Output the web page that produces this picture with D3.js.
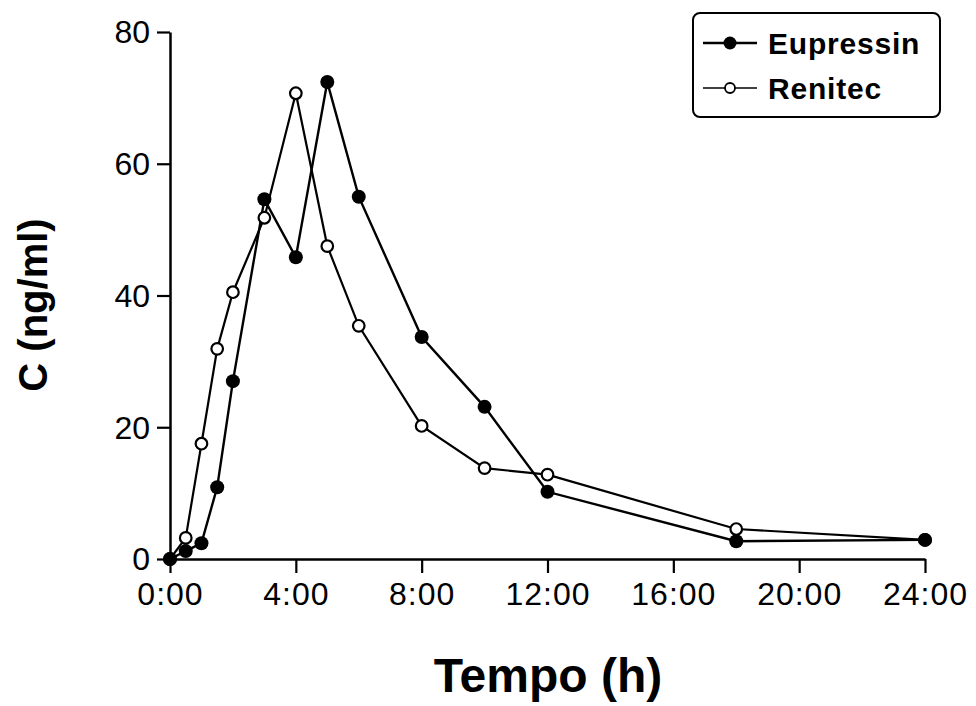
<!DOCTYPE html>
<html>
<head>
<meta charset="utf-8">
<script src="https://cdn.jsdelivr.net/npm/d3@7"></script>
<style>
  body { margin: 0; background: #fff; }
  svg { display: block; font-family: "Liberation Sans", Arial, sans-serif; }
</style>
</head>
<body>
<div id="chart"></div>
<script>
// sampling times (h)
var hours = [0, 0.5, 1, 1.5, 2, 3, 4, 5, 6, 8, 10, 12, 18, 24];
var eupressin = [0, 1.2, 2.4, 10.9, 27.0, 54.6, 45.8, 72.4, 55.0, 33.7, 23.1, 10.2, 2.7, 2.9];
var renitec = [0, 3.2, 17.5, 31.9, 40.5, 51.8, 70.7, 47.5, 35.4, 20.2, 13.8, 12.8, 4.55, 2.9];
var xTicks = [0, 4, 8, 12, 16, 20, 24];
var yTicks = [0, 20, 40, 60, 80];
var seriesNames = ["Eupressin", "Renitec"];

var width = 976, height = 706;
var svg = d3.select("#chart").append("svg")
  .attr("width", width).attr("height", height);

var x = d3.scaleLinear().domain([0, 24]).range([170, 925]);
var y = d3.scaleLinear().domain([0, 80]).range([559, 32]);

function fmtHour(h) { return h + ":00"; }

// axes
var xAxis = svg.append("g")
  .attr("transform", "translate(0," + y(0) + ")")
  .call(d3.axisBottom(x).tickValues(xTicks).tickFormat(fmtHour).tickSize(14).tickPadding(9).tickSizeOuter(0));
var yAxis = svg.append("g")
  .attr("transform", "translate(" + x(0) + ",0)")
  .call(d3.axisLeft(y).tickValues(yTicks).tickSize(13).tickPadding(7).tickSizeOuter(0));

[xAxis, yAxis].forEach(function (ax) {
  ax.select(".domain").attr("stroke", "#000").attr("stroke-width", 2.5);
  ax.selectAll(".tick line").attr("stroke", "#000").attr("stroke-width", 2.2);
  ax.selectAll(".tick text")
    .attr("fill", "#000")
    .style("font-size", "32px")
    .style("font-family", "'Liberation Sans', Arial, sans-serif");
});
xAxis.selectAll(".tick text").style("letter-spacing", "1px");
yAxis.selectAll(".tick text").attr("dy", "0.34em");

// axis titles
svg.append("text")
  .attr("x", 548).attr("y", 692)
  .attr("text-anchor", "middle")
  .style("font-size", "48px").style("font-weight", "bold")
  .text("Tempo (h)");

svg.append("text")
  .attr("transform", "translate(47,305) rotate(-90)")
  .attr("text-anchor", "middle")
  .style("font-size", "40px").style("font-weight", "bold")
  .text("C (ng/ml)");

// lines
var line = d3.line()
  .x(function (d) { return x(d[0]); })
  .y(function (d) { return y(d[1]); });

var eupData = hours.map(function (h, i) { return [h, eupressin[i]]; });
var renData = hours.map(function (h, i) { return [h, renitec[i]]; });

svg.append("path").datum(renData)
  .attr("d", line).attr("fill", "none")
  .attr("stroke", "#000").attr("stroke-width", 2.2);
svg.append("path").datum(eupData)
  .attr("d", line).attr("fill", "none")
  .attr("stroke", "#000").attr("stroke-width", 2.4);

svg.selectAll(".ren").data(renData).enter().append("circle")
  .attr("class", "ren")
  .attr("cx", function (d) { return x(d[0]); })
  .attr("cy", function (d) { return y(d[1]); })
  .attr("r", 5.8)
  .attr("fill", "#fff").attr("stroke", "#000").attr("stroke-width", 2.2);

svg.selectAll(".eup").data(eupData).enter().append("circle")
  .attr("class", "eup")
  .attr("cx", function (d) { return x(d[0]); })
  .attr("cy", function (d) { return y(d[1]); })
  .attr("r", 7)
  .attr("fill", "#000");

// legend
var legend = svg.append("g");
legend.append("rect")
  .attr("x", 693).attr("y", 13).attr("width", 247).attr("height", 104)
  .attr("rx", 7).attr("fill", "#fff")
  .attr("stroke", "#000").attr("stroke-width", 2);

var legRows = [
  { name: seriesNames[0], cy: 43, filled: true },
  { name: seriesNames[1], cy: 88, filled: false }
];
legRows.forEach(function (r) {
  legend.append("line")
    .attr("x1", 703).attr("x2", 757).attr("y1", r.cy).attr("y2", r.cy)
    .attr("stroke", "#000").attr("stroke-width", r.filled ? 2.4 : 1.6);
  legend.append("circle")
    .attr("cx", 730).attr("cy", r.cy)
    .attr("r", r.filled ? 6.5 : 5)
    .attr("fill", r.filled ? "#000" : "#fff")
    .attr("stroke", "#000").attr("stroke-width", r.filled ? 0 : 1.8);
  legend.append("text")
    .attr("x", 768).attr("y", r.cy + 10.5)
    .style("font-size", "30px").style("font-weight", "bold")
    .style("letter-spacing", "0.8px")
    .text(r.name);
});
</script>
</body>
</html>
